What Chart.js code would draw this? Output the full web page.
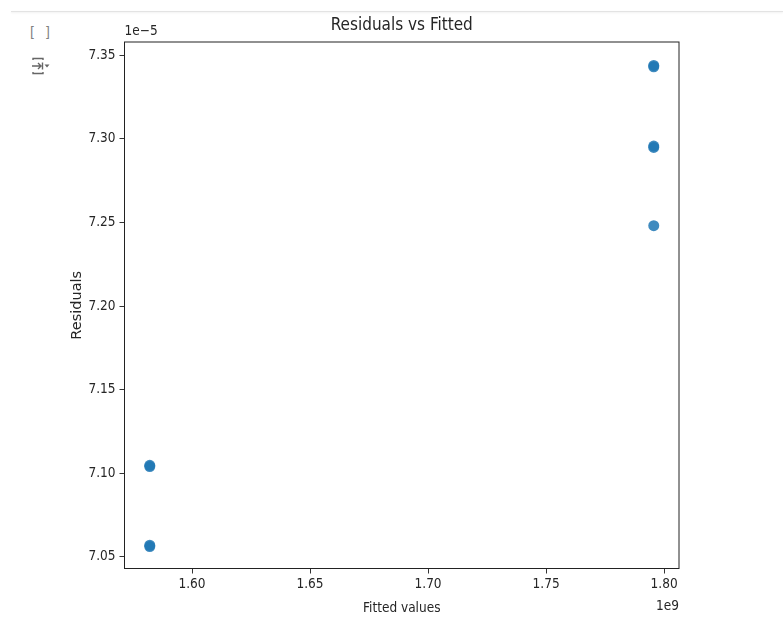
<!DOCTYPE html>
<html>
<head>
  <title>Residuals vs Fitted</title>
  <style>
    body {
      margin: 0;
      padding: 0;
      background: #fff;
      width: 783px;
      height: 617px;
      overflow: hidden;
      position: relative;
      font-family: 'DejaVu Sans Condensed', 'DejaVu Sans', sans-serif;
    }

    .topline {
      position: absolute;
      left: 11px;
      right: 0;
      top: 11px;
      height: 1px;
      background: #e3e3e3;
      box-shadow: 0 1px 2px rgba(0, 0, 0, 0.08);
    }

    .cell-bracket {
      position: absolute;
      left: 30px;
      top: 24px;
      font-size: 14px;
      color: #808080;
      letter-spacing: 3px;
    }

    .cell-icon {
      position: absolute;
      left: 31px;
      top: 56px;
    }

    #wrap {
      position: absolute;
      left: 0;
      top: 0;
      width: 783px;
      height: 617px;
    }
  </style>
</head>
<body>
  <div class="topline"></div>
  <div class="cell-bracket">[ ]</div>
  <svg class="cell-icon" width="20" height="20" viewBox="0 0 20 20">
    <path d="M2 4 V2.5 H12 V4" fill="none" stroke="#666" stroke-width="1.4"/>
    <path d="M2 16 V17.5 H12 V16" fill="none" stroke="#666" stroke-width="1.4"/>
    <path d="M1 10 H10 M7 7 L10 10 L7 13 M11.5 6.5 V13.5" fill="none" stroke="#666" stroke-width="1.4"/>
    <path d="M13.5 8.5 H18.5 L16 11.5 Z" fill="#666"/>
  </svg>

  <div id="wrap"><canvas id="chart" width="783" height="617"></canvas></div>

  <script src="https://cdn.jsdelivr.net/npm/chart.js"></script>
  <script>
    // fitted values in units of 1e9, residuals in units of 1e-5 (offset text drawn on axes)
    const fittedValues = [1.5821, 1.5821, 1.5821, 1.5821, 1.7956, 1.7956, 1.7956, 1.7956, 1.7956];
    const residuals    = [7.1040, 7.1048, 7.0562, 7.0570, 7.3430, 7.3438, 7.2948, 7.2956, 7.2480];
    const xTicks = [1.60, 1.65, 1.70, 1.75, 1.80];
    const yTicks = [7.05, 7.10, 7.15, 7.20, 7.25, 7.30, 7.35];

    const tickFont = { family: "'DejaVu Sans Condensed', 'DejaVu Sans', sans-serif", size: 13.5 };
    const textColor = '#262626';

    const points = fittedValues.map((x, i) => ({ x: x, y: residuals[i] }));

    // matplotlib-ish frame, title, axis labels and offset texts
    const decorations = {
      id: 'decorations',
      afterDraw(chart) {
        const { ctx, chartArea: a } = chart;
        ctx.save();
        ctx.strokeStyle = '#222';
        ctx.lineWidth = 1;
        ctx.strokeRect(a.left, a.top, a.right - a.left, a.bottom - a.top);

        ctx.fillStyle = textColor;
        ctx.textBaseline = 'middle';
        ctx.textAlign = 'center';
        ctx.font = "17px 'DejaVu Sans Condensed', 'DejaVu Sans', sans-serif";
        ctx.fillText('Residuals vs Fitted', (a.left + a.right) / 2, 26);

        ctx.font = "13.5px 'DejaVu Sans Condensed', 'DejaVu Sans', sans-serif";
        ctx.fillText('Fitted values', (a.left + a.right) / 2, 608);

        ctx.textAlign = 'left';
        ctx.fillText('1e\u22125', a.left, 31);
        ctx.textAlign = 'right';
        ctx.fillText('1e9', a.right, 606);

        ctx.translate(77, (a.top + a.bottom) / 2);
        ctx.rotate(-Math.PI / 2);
        ctx.textAlign = 'center';
        ctx.font = "14.5px 'DejaVu Sans', sans-serif";
        ctx.fillText('Residuals', 0, 0);
        ctx.restore();
      }
    };

    new Chart(document.getElementById('chart'), {
      type: 'scatter',
      data: {
        datasets: [{
          data: points,
          backgroundColor: 'rgba(31, 119, 180, 0.85)',
          borderWidth: 0,
          pointRadius: 5.5,
          pointHoverRadius: 5.5
        }]
      },
      options: {
        responsive: false,
        animation: false,
        devicePixelRatio: 1,
        layout: { padding: { left: 60, right: 104, top: 42, bottom: 0 } },
        plugins: {
          legend: { display: false },
          tooltip: { enabled: false }
        },
        scales: {
          x: {
            type: 'linear',
            min: 1.5714,
            max: 1.8063,
            afterFit(scale) { scale.height = 48.5; },
            afterBuildTicks(scale) { scale.ticks = xTicks.map(v => ({ value: v })); },
            grid: { drawOnChartArea: false, tickLength: 5, tickColor: '#333' },
            border: { display: false },
            ticks: {
              color: textColor,
              font: tickFont,
              padding: 3,
              maxRotation: 0,
              callback: v => v.toFixed(2)
            }
          },
          y: {
            type: 'linear',
            min: 7.0431,
            max: 7.3578,
            afterFit(scale) { scale.width = 64.5; },
            afterBuildTicks(scale) { scale.ticks = yTicks.map(v => ({ value: v })); },
            grid: { drawOnChartArea: false, tickLength: 5, tickColor: '#333' },
            border: { display: false },
            ticks: {
              color: textColor,
              font: tickFont,
              padding: 4,
              callback: v => v.toFixed(2)
            }
          }
        }
      },
      plugins: [decorations]
    });
  </script>
</body>
</html>
